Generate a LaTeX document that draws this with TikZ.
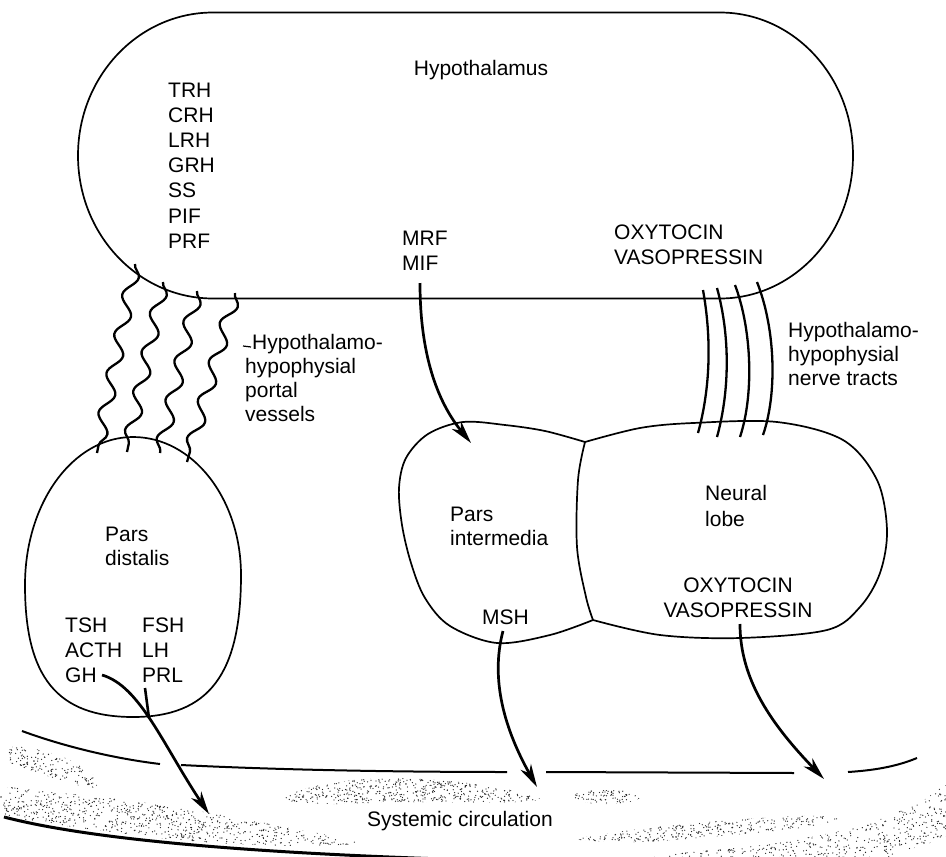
\documentclass[tikz,border=0pt]{standalone}
\usepackage{fontspec}
\setmainfont{Liberation Sans}
\usetikzlibrary{arrows.meta,decorations.pathmorphing}
\newcommand\stipplearea[6]{%
  \begin{scope}
    \clip #1;
    \foreach \k in {1,...,#6}{%
      \pgfmathsetmacro\sx{#2+rnd*(#3-#2)}%
      \pgfmathsetmacro\sy{#4+rnd*(#5-#4)}%
      \fill[black!85] (\sx,\sy) circle[radius=0.65];
    }
  \end{scope}}
\begin{document}
\begin{tikzpicture}[x=1pt,y=-1pt,
  outline/.style={line width=1.7pt, line join=round},
  flow/.style={line width=2.7pt, -{Stealth[length=23pt,width=12pt,inset=7pt]}},
  vessel/.style={line width=2.3pt, decorate, decoration={snake, segment length=40pt, amplitude=6.5pt}},
  tract/.style={line width=2.3pt},
  ground/.style={line width=2pt},
  lbl/.style={inner sep=0pt, anchor=base west, font=\fontsize{21}{25}\selectfont}]
\useasboundingbox (0,0) rectangle (946,857);
\pgfmathsetseed{4242}

% ---------- Hypothalamus ----------
\draw[outline] (213,12.5) -- (720,12.5)
  .. controls (793.5,12.5) and (853,76.5) .. (853,155.5)
  .. controls (853,234.5) and (793.5,298.5) .. (720,298.5)
  -- (213,298.5)
  .. controls (138.4,298.5) and (78,234.5) .. (78,155.5)
  .. controls (78,76.5) and (138.4,12.5) .. (213,12.5) -- cycle;
\node[lbl, anchor=base] (hyp) at (481,75) {Hypothalamus};
\foreach \t [count=\i] in {TRH,CRH,LRH,GRH,SS,PIF,PRF}
  \node[lbl] (rel\i) at (168,{97+25.2*(\i-1)}) {\t};
\node[lbl] (mrf) at (402,245.5) {MRF};
\node[lbl] (mif) at (402,270.5) {MIF};
\node[lbl] (oxyT) at (614,239) {OXYTOCIN};
\node[lbl] (vasoT) at (614,264) {VASOPRESSIN};

% ---------- Portal vessels ----------
\draw[vessel] (135,264) -- (97,453);
\draw[vessel] (163,282) -- (127,452);
\draw[vessel] (197,291) -- (160,453);
\draw[vessel] (235,293) -- (187,462);
\draw[line width=1.2pt] (243,346) -- (251,347);
\node[lbl] (pv1) at (252,349) {Hypothalamo-};
\node[lbl] (pv2) at (245,373) {hypophysial};
\node[lbl] (pv3) at (245,397) {portal};
\node[lbl] (pv4) at (245,421) {vessels};

% ---------- Nerve tracts ----------
\draw[tract] (703,290) .. controls (712,340) and (710,390) .. (698,433);
\draw[tract] (717,288) .. controls (730,335) and (730,390) .. (717,437);
\draw[tract] (735,285) .. controls (752,330) and (754,395) .. (740,437);
\draw[tract] (757,282) .. controls (776,330) and (777,395) .. (763,435);
\node[lbl] (nt1) at (788,337) {Hypothalamo-};
\node[lbl] (nt2) at (788,361) {hypophysial};
\node[lbl] (nt3) at (788,385) {nerve tracts};

% ---------- Pars distalis ----------
\draw[outline] (133,437) .. controls (193,437) and (241,499) .. (241,575)
  .. controls (241,674) and (209,717) .. (133,717)
  .. controls (57,717) and (25,677) .. (25,585)
  .. controls (25,503) and (73,437) .. (133,437) -- cycle;
\node[lbl] (pd1) at (105,541) {Pars};
\node[lbl] (pd2) at (105,565) {distalis};
\node[lbl] (tsh) at (65,632) {TSH};
\node[lbl] (acth) at (65,657) {ACTH};
\node[lbl] (gh) at (65,682) {GH};
\node[lbl] (fsh) at (142,632) {FSH};
\node[lbl] (lh) at (142,657) {LH};
\node[lbl] (prl) at (142,682) {PRL};

% ---------- Pars intermedia and neural lobe ----------
\coordinate (J1) at (585,442);
\coordinate (J2) at (593,620);
\draw[outline] plot[smooth, tension=0.55] coordinates {(585,442) (545,431) (505,425) (463,422) (428,434) (406,458) (399,488) (402,525) (411,563) (425,598) (450,626) (497,643) (550,635) (593,620)};
\draw[outline] plot[smooth, tension=0.55] coordinates {(585,442) (640,428) (693,423) (777,422) (843,440) (877,480) (887,530) (880,573) (860,607) (827,630) (740,638) (660,635) (593,620)};
\draw[outline] plot[smooth, tension=0.55] coordinates {(585,442) (578,480) (577,547) (586,597) (593,620)};
\node[lbl] (pi1) at (450,521) {Pars};
\node[lbl] (pi2) at (450,545) {intermedia};
\node[lbl] (nl1) at (705,500.5) {Neural};
\node[lbl] (nl2) at (705,526.5) {lobe};
\node[lbl, anchor=base] (oxyB) at (738,592) {OXYTOCIN};
\node[lbl, anchor=base] (vasoB) at (738,617) {VASOPRESSIN};
\node[lbl] (msh) at (482,624) {MSH};

% ---------- Arrows ----------
\coordinate (mrfS) at (420,283);
\coordinate (mrfE) at (471,443);
\draw[flow] (mrfS) .. controls (420,360) and (440,405) .. (mrfE);
\coordinate (mshS) at (503,631);
\coordinate (mshE) at (537,787);
\draw[flow] (mshS) .. controls (490,680) and (505,730) .. (mshE);
\coordinate (nlS) at (740,624);
\coordinate (nlE) at (824,779);
\draw[flow] (nlS) .. controls (740,680) and (772,725) .. (nlE);
\coordinate (ghS) at (102,675);
\coordinate (ghE) at (209,814);
\draw[flow] (ghS) .. controls (140,686) and (163,745) .. (ghE);
\coordinate (prlS) at (145,688);
\coordinate (prlE) at (149,718);
\draw[line width=2.6pt] (prlS) -- (prlE);

% ---------- Systemic circulation ----------
\draw[ground] (22,731) .. controls (60,745) and (110,758) .. (160,764);
\draw[ground] (181,765) .. controls (280,770) and (400,772) .. (507,772);
\draw[ground] (546,772) -- (794,773);
\draw[ground] (848,772) .. controls (880,770) and (900,765) .. (917,758);
\draw[line width=3pt] (4,817) .. controls (100,842) and (300,860) .. (680,864);

\stipplearea{plot[smooth cycle] coordinates {(12,747) (40,750) (70,760) (97,778) (92,788) (60,780) (30,770) (10,762)}}{5}{100}{743}{790}{380}
\stipplearea{plot[smooth cycle] coordinates {(0,788) (50,792) (110,798) (180,808) (260,822) (356,842) (300,846) (200,842) (110,832) (40,822) (0,815)}}{0}{360}{785}{848}{1600}
\stipplearea{plot[smooth cycle] coordinates {(282,799) (320,785) (380,778) (450,781) (510,790) (540,800) (480,803) (400,802) (330,804)}}{278}{542}{776}{806}{750}
\stipplearea{(606,797) ellipse[x radius=34, y radius=7]}{570}{642}{789}{805}{110}
\stipplearea{plot[smooth cycle] coordinates {(576,839) (640,829) (720,821) (800,816) (842,818) (800,828) (720,836) (640,842)}}{572}{845}{813}{845}{700}
\stipplearea{plot[smooth cycle] coordinates {(650,858) (770,844) (860,826) (920,802) (948,786) (950,832) (900,852) (860,860)}}{645}{950}{783}{860}{1300}

\node[lbl] (sys) at (367,826) {Systemic circulation};
\end{tikzpicture}
\end{document}
